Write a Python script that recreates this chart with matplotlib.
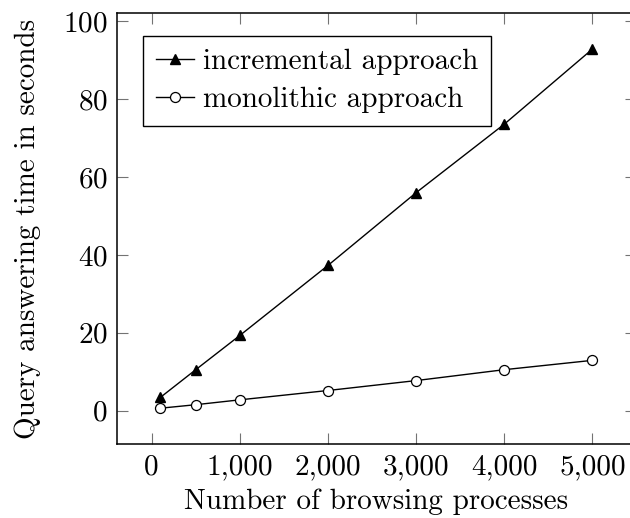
import matplotlib
matplotlib.use('Agg')
import matplotlib.pyplot as plt
import numpy as np

# data
n_processes = [100, 500, 1000, 2000, 3000, 4000, 5000]
incremental = [3.4, 10.5, 19.3, 37.3, 56.0, 73.6, 92.9]
monolithic = [0.6, 1.5, 2.75, 5.15, 7.7, 10.5, 12.9]

x_ticks = [0, 1000, 2000, 3000, 4000, 5000]
x_ticklabels = ['0', '1,000', '2,000', '3,000', '4,000', '5,000']
y_ticks = [0, 20, 40, 60, 80, 100]

plt.rcParams['font.family'] = ['cmr10', 'DejaVu Serif']
plt.rcParams['axes.formatter.use_mathtext'] = True
plt.rcParams['font.size'] = 21

fig = plt.figure(figsize=(6.3, 5.18), dpi=100)
# axes runs a little past the right edge, like the reference
ax = fig.add_axes([117.3 / 630, 1 - 444 / 518, (635.6 - 117.3) / 630, (444 - 13.3) / 518])

ax.plot(n_processes, incremental, color='k', lw=1.0, marker='^', ms=7.5,
        mfc='k', mec='k', label='incremental approach')
ax.plot(n_processes, monolithic, color='k', lw=1.0, marker='o', ms=7.2,
        mfc='white', mec='k', mew=0.9, label='monolithic approach')

# pgfplots style enlarge limits (10%)
ax.set_xlim(-390, 5490)
ax.set_ylim(-8.6, 102.1)

ax.set_xticks(x_ticks)
ax.set_xticklabels(x_ticklabels)
ax.set_yticks(y_ticks)
ax.tick_params(direction='in', length=8, width=0.8, color='0.45',
               top=True, right=True, pad=7)
for s in ax.spines.values():
    s.set_linewidth(1.1)

ax.set_xlabel('Number of browsing processes', labelpad=6)
ax.set_ylabel('Query answering time in seconds', labelpad=16)

leg = ax.legend(loc='upper left', bbox_to_anchor=(0.05, 0.948), borderaxespad=0,
                fancybox=False, framealpha=1, edgecolor='k', handlelength=1.3,
                handletextpad=0.3, borderpad=0.45, labelspacing=0.4)
leg.get_frame().set_linewidth(1.0)

fig.savefig('out.png', dpi=100)
